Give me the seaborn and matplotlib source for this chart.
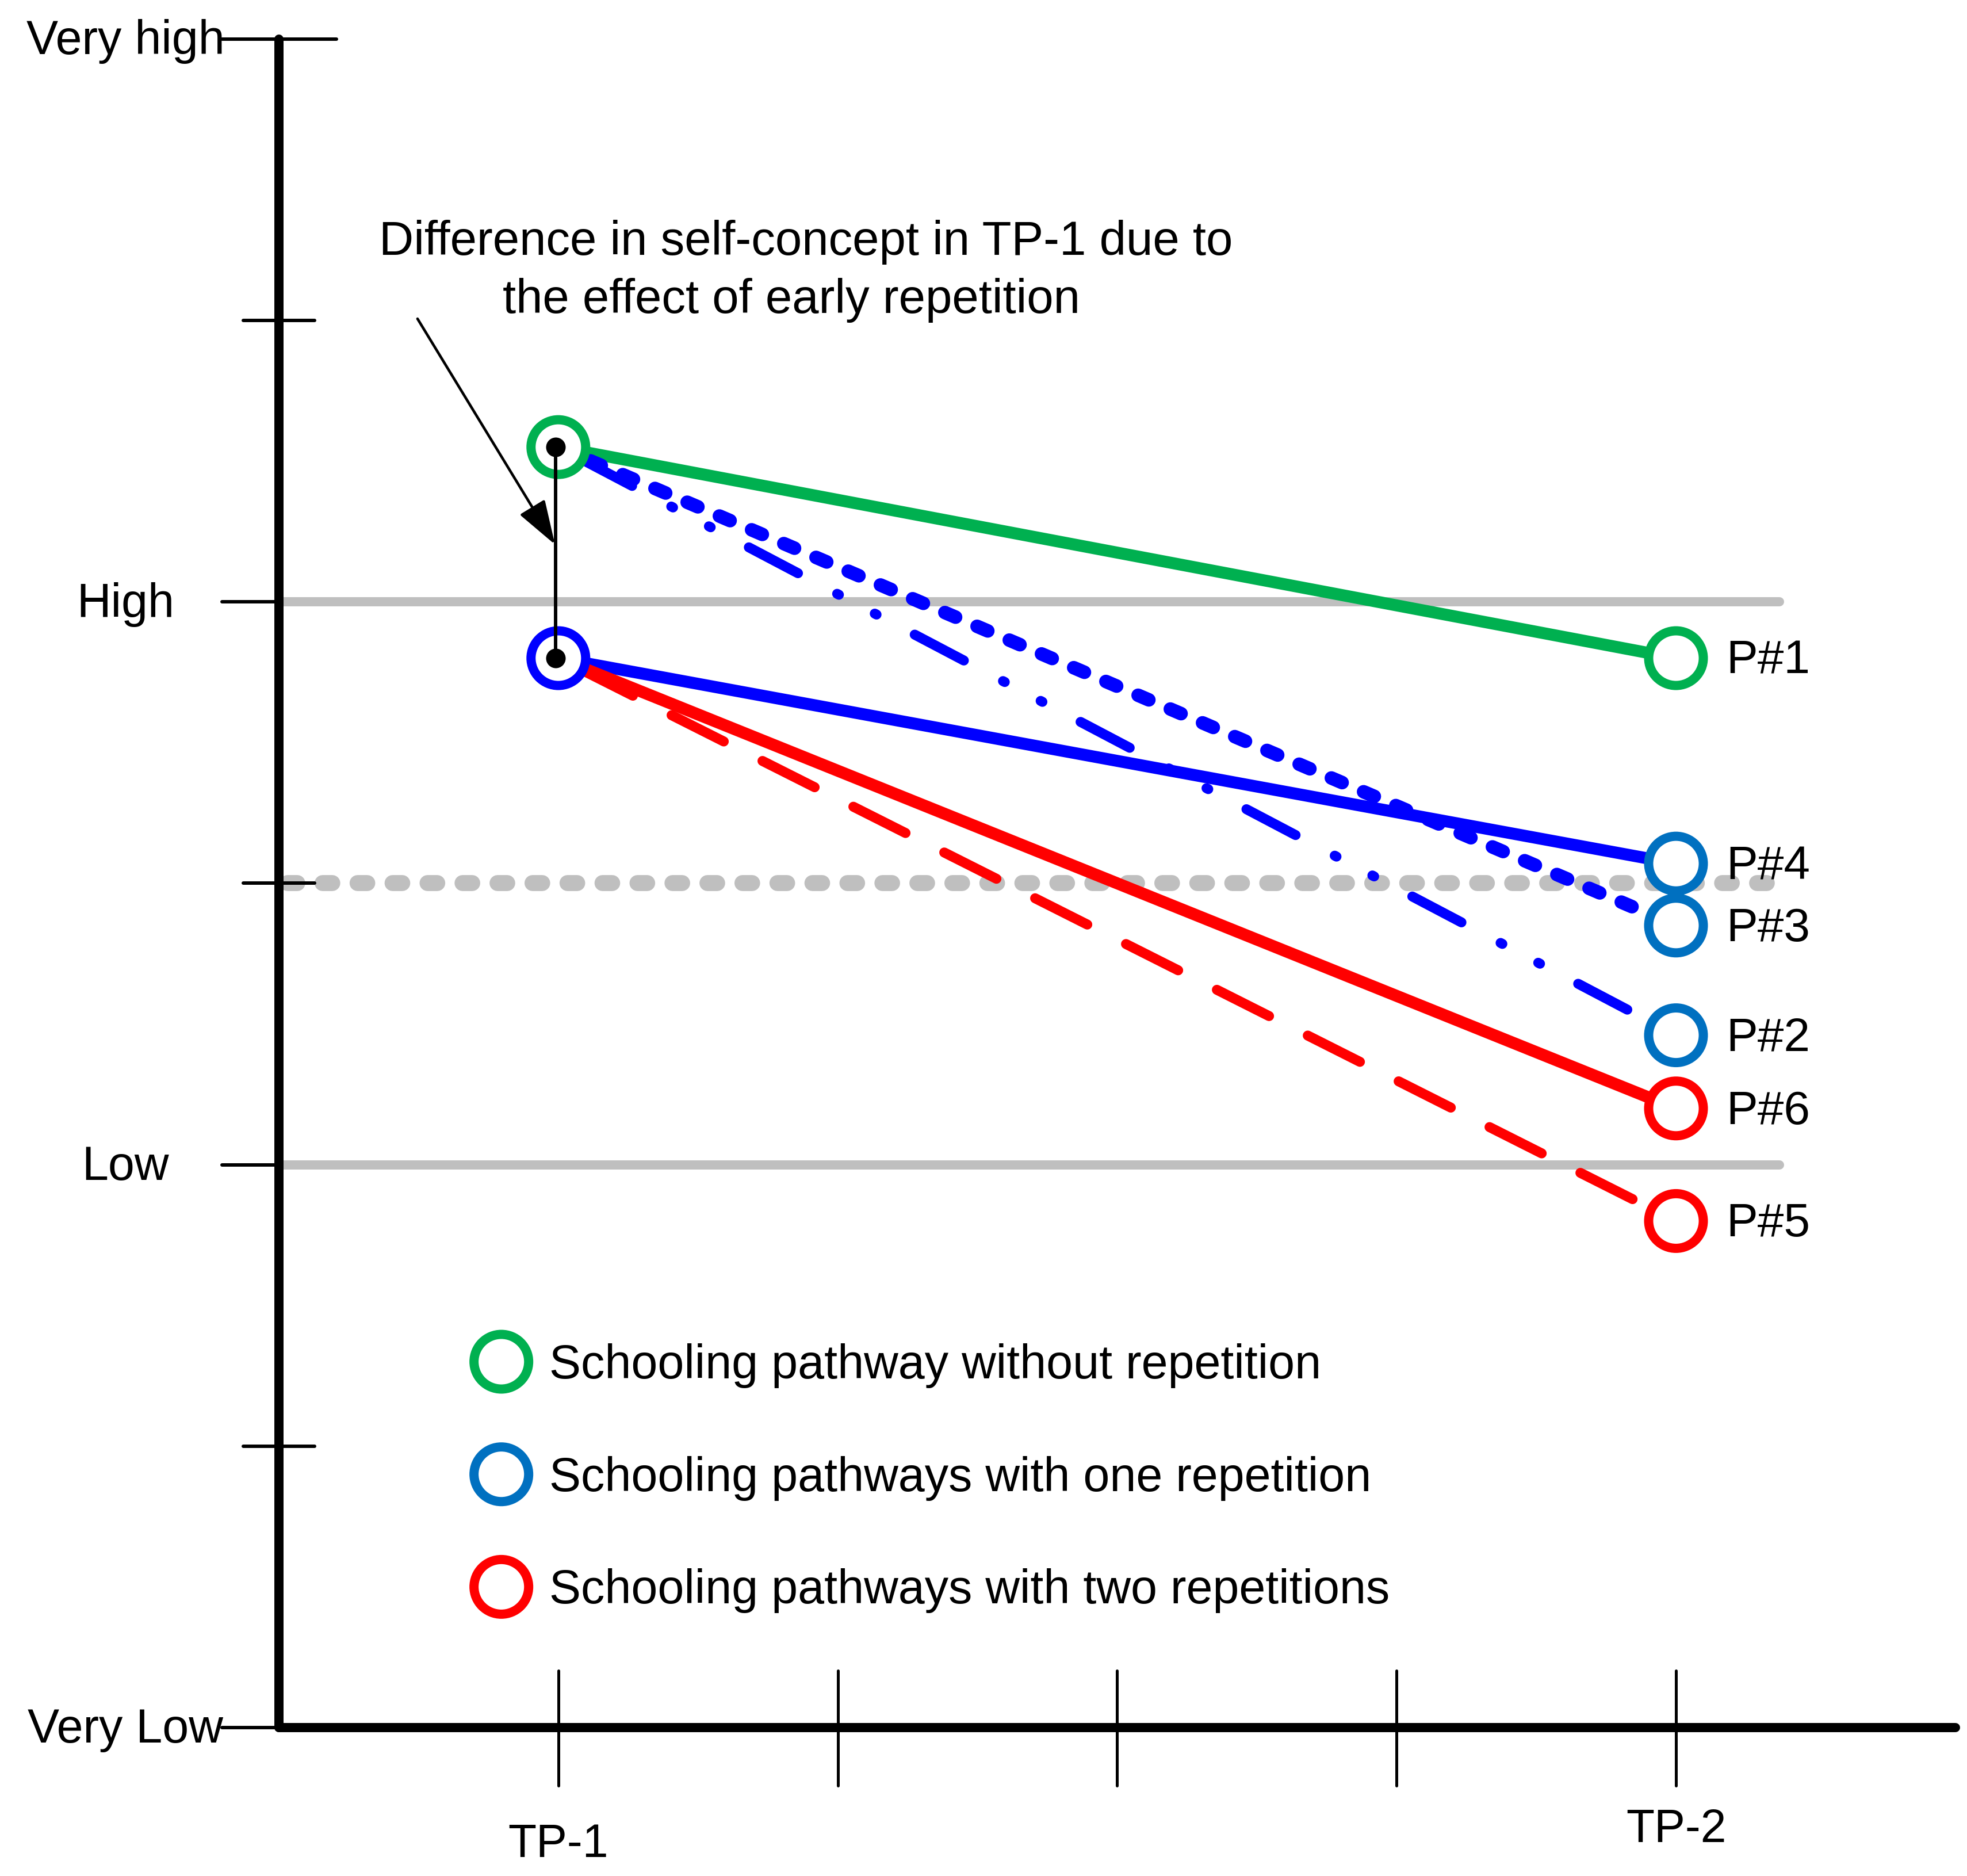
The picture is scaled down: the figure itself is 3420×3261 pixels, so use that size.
import matplotlib.pyplot as plt
import numpy as np
import pandas as pd
import seaborn as sns

sns.set_style('white')
plt.rcParams['font.family'] = ['Liberation Sans', 'DejaVu Sans']
plt.rcParams['text.color'] = 'black'

#%% data
# self-concept scale: 0 = very low ... 6 = very high
level_names = ['Very Low', 'Low', 'High', 'Very high']
level_pos = [0, 2, 4, 6]
mid_ticks = [1, 3, 5]
tp_names = ['TP-1', 'TP-2']
tp_pos = [1, 5]
x_ticks = [1, 2, 3, 4, 5]

pathways = ['P#1', 'P#4', 'P#2', 'P#3', 'P#5', 'P#6']
tp1_vals = [4.55, 3.80, 4.55, 4.55, 3.80, 3.80]
tp2_vals = [3.80, 3.07, 2.46, 2.85, 1.80, 2.20]
groups = ['none', 'one', 'one', 'one', 'two', 'two']

start_levels = [4.55, 3.80]
start_groups = ['none', 'one_tp1']

legend_groups = ['none', 'one', 'two']
legend_labels = ['Schooling pathway without repetition',
                 'Schooling pathways with one repetition',
                 'Schooling pathways with two repetitions']
legend_y = [1.30, 0.90, 0.50]

note_lines = ['Difference in self-concept in TP-1 due to',
              'the effect of early repetition']

#%% styles
line_colors = {'P#1': '#00B050', 'P#4': '#0000FF', 'P#2': '#0000FF',
               'P#3': '#0000FF', 'P#5': '#FF0000', 'P#6': '#FF0000'}
line_widths = {'P#1': 15, 'P#4': 15, 'P#2': 12.5, 'P#3': 17, 'P#5': 12.5, 'P#6': 15}
line_dashes = {'P#1': '', 'P#4': '', 'P#6': '',
               'P#2': (5.56, 4.43, 0.2, 4.06, 0.2, 4.32),
               'P#3': (0.86, 1.72),
               'P#5': (5.85, 4.34)}
dash_offsets = {'P#2': 15.98, 'P#5': 7.68}
circle_colors = {'none': '#00B050', 'one': '#0070C0', 'two': '#FF0000',
                 'one_tp1': '#0000FF'}
grey = '#BFBFBF'

#%% tables
lines = pd.concat([
    pd.DataFrame({'pathway': pathways, 'time': tp_pos[0], 'self_concept': tp1_vals}),
    pd.DataFrame({'pathway': pathways, 'time': tp_pos[1], 'self_concept': tp2_vals}),
], ignore_index=True)

circles = pd.concat([
    pd.DataFrame({'x': tp_pos[0], 'y': start_levels, 'group': start_groups}),
    pd.DataFrame({'x': tp_pos[1], 'y': tp2_vals, 'group': groups}),
    pd.DataFrame({'x': 0.796, 'y': legend_y, 'group': legend_groups}),
], ignore_index=True)

#%% plot
fig = plt.figure(figsize=(34.2, 32.62), dpi=100)
ax = fig.add_axes([0.1418, 0.0791, 0.8523, 0.8998])
ax.set_xlim(0, 6)
ax.set_ylim(0, 6)
ax.axis('off')

# grey reference lines
for y in [level_pos[1], level_pos[2]]:
    ax.plot([0, 5.37], [y, y], color=grey, lw=11.5, solid_capstyle='round', zorder=1)
ax.plot([0.03, 5.36], [mid_ticks[1]] * 2, color=grey, lw=20,
        ls=(0, (0.61, 1.58)), dash_capstyle='round', zorder=1)

# axes lines + ticks
ax.plot([0, 0], [0, 6], color='black', lw=11.5, solid_capstyle='round', clip_on=False, zorder=2)
ax.plot([0, 6], [0, 0], color='black', lw=11.5, solid_capstyle='round', clip_on=False, zorder=2)
for y in level_pos:
    right = 0.206 if y == 6 else 0
    ax.plot([-0.204, right], [y, y], color='black', lw=4.3, clip_on=False, zorder=2)
for y in mid_ticks:
    ax.plot([-0.128, 0.128], [y, y], color='black', lw=4.3, clip_on=False, zorder=2)
for x in x_ticks:
    ax.plot([x, x], [-0.207, 0.203], color='black', lw=3.6, clip_on=False, zorder=2)

for name, y in zip(level_names, level_pos):
    ax.text(-0.549, y - 0.052, name, ha='center', va='baseline', fontsize=59.5)
for name, x, yb in zip(tp_names, tp_pos, [-0.458, -0.405]):
    ax.text(x, yb, name, ha='center', va='baseline', fontsize=58)

# pathways
n_before = len(ax.lines)
sns.lineplot(data=lines, x='time', y='self_concept', hue='pathway', size='pathway',
             style='pathway', hue_order=pathways, size_order=pathways, style_order=pathways,
             palette=line_colors, sizes=line_widths, dashes=line_dashes,
             errorbar=None, legend=False, dash_capstyle='round', solid_capstyle='round',
             zorder=3, clip_on=False, ax=ax)
# shift the dash phase of some pathways so the dashes sit where they do in the source
for line in ax.lines[n_before:]:
    yd = np.asarray(line.get_ydata(), dtype=float)
    for name, start, end in zip(pathways, tp1_vals, tp2_vals):
        if name in dash_offsets and np.allclose(yd, [start, end]):
            line.set_linestyle((dash_offsets[name], line_dashes[name]))

# circles
sns.scatterplot(data=circles, x='x', y='y', s=4680, color='white',
                edgecolor=[circle_colors[g] for g in circles['group']],
                linewidth=11.5, zorder=4, clip_on=False, legend=False, ax=ax)

# difference marker at TP-1
dot_x = tp_pos[0] - 0.01
ax.plot([dot_x, dot_x], start_levels, color='black', lw=4.3, zorder=5)
sns.scatterplot(x=[dot_x, dot_x], y=start_levels, s=600, color='black',
                linewidth=0, zorder=6, legend=False, ax=ax)

for name, v in zip(pathways, tp2_vals):
    ax.text(5.18, v - 0.053, name, ha='left', va='baseline', fontsize=59)

for lbl, y in zip(legend_labels, legend_y):
    ax.text(0.967, y - 0.057, lbl, ha='left', va='baseline', fontsize=59.5)

ax.text(1.885, 5.235, note_lines[0], ha='center', va='baseline', fontsize=60)
ax.text(1.835, 5.029, note_lines[1], ha='center', va='baseline', fontsize=60)
ax.annotate('', xy=(0.988, 4.204), xytext=(0.496, 5.006),
            arrowprops=dict(arrowstyle='-|>,head_length=0.48,head_width=0.16',
                            mutation_scale=100, lw=3.3, color='black',
                            shrinkA=0, shrinkB=0), zorder=5)

fig.savefig('out.png', dpi=100, facecolor='white')
